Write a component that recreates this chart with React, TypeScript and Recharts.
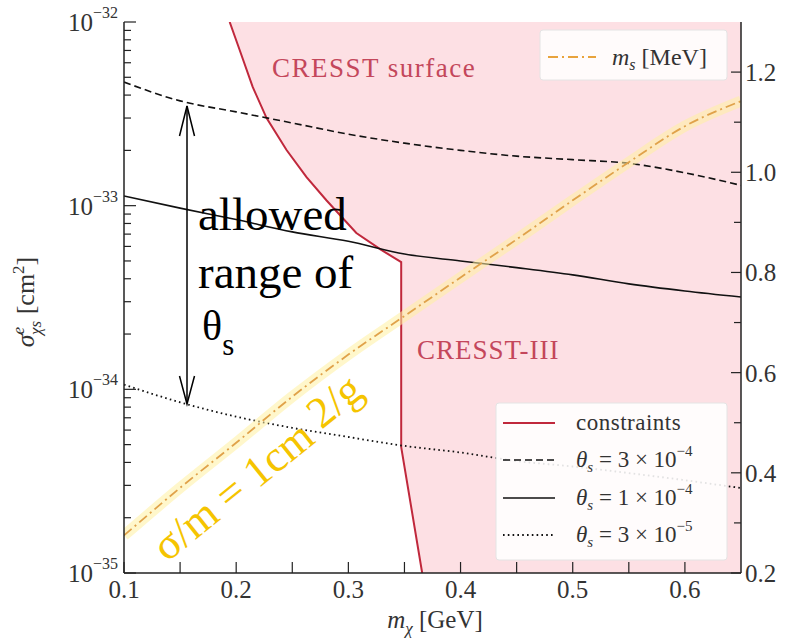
import React from 'react'
import { ComposedChart, XAxis, YAxis, Line, Area } from 'recharts'

const W = 785
const H = 638
const FONT = '"Liberation Serif", "Times New Roman", serif'
const INK = '#222'

// dark matter mass grid, GeV
const mChi = [0.1, 0.15, 0.2, 0.25, 0.3, 0.35, 0.4, 0.45, 0.5, 0.55, 0.6, 0.65]
// electron scattering cross section on sigma/m = 1 cm^2/g, cm^2
const sigTheta3e4 = [4.71e-33, 3.72e-33, 3.24e-33, 2.82e-33, 2.45e-33, 2.19e-33, 2.0e-33, 1.86e-33, 1.78e-33, 1.7e-33, 1.51e-33, 1.29e-33]
const sigTheta1e4 = [1.13e-33, 9.7e-34, 8.4e-34, 7.2e-34, 6.4e-34, 5.45e-34, 5.0e-34, 4.6e-34, 4.2e-34, 3.75e-34, 3.43e-34, 3.18e-34]
const sigTheta3e5 = [1.06e-34, 8.5e-35, 7.1e-35, 6.17e-35, 5.5e-35, 4.92e-35, 4.53e-35, 4.07e-35, 3.8e-35, 3.5e-35, 3.2e-35, 2.9e-35]
// mediator mass, MeV (right axis)
const mS = [0.275, 0.37, 0.46, 0.552, 0.636, 0.713, 0.79, 0.866, 0.944, 1.02, 1.092, 1.142]

// CRESST surface + CRESST-III exclusion boundary
const cresstM = [0.1942, 0.2031, 0.2147, 0.2271, 0.2449, 0.2627, 0.2804, 0.3071, 0.3293, 0.3471, 0.3471, 0.3658, 0.65]
const cresstSig = [1e-32, 7.04e-33, 4.43e-33, 3.0e-33, 2.01e-33, 1.43e-33, 1.07e-33, 7.1e-34, 5.74e-34, 4.93e-34, 4.85e-35, 1e-35, 1e-35]

const SIG_DOMAIN: [number, number] = [1e-35, 1e-32]
const MS_DOMAIN: [number, number] = [0.2, 1.3]
const M_DOMAIN: [number, number] = [0.1, 0.65]

const xTicks = [0.1, 0.15, 0.2, 0.25, 0.3, 0.35, 0.4, 0.45, 0.5, 0.55, 0.6]
const xLabels = ['0.1', '0.2', '0.3', '0.4', '0.5', '0.6']
const decades = [-35, -34, -33, -32]
const mantissas = [2, 3, 4, 5, 6, 7, 8, 9]
const sigTicks = [
  ...decades.map((d) => Math.pow(10, d)),
  ...decades.slice(0, 3).flatMap((d) => mantissas.map((k) => k * Math.pow(10, d))),
]
const msTicks = [0.2, 0.3, 0.4, 0.5, 0.6, 0.7, 0.8, 0.9, 1.0, 1.1, 1.2]
const msLabels = ['0.2', '0.4', '0.6', '0.8', '1.0', '1.2']

const rows = (ys: number[]) => mChi.map((m, i) => ({ m, v: ys[i] }))
const cresstRows = cresstM.map((m, i) => ({ m, v: cresstSig[i], band: [cresstSig[i], SIG_DOMAIN[1]] }))

const fmt = (v: number) => v.toFixed(1)

function BottomTick({ x, y, payload }: any) {
  const label = fmt(payload.value)
  const major = xLabels.includes(label) && Math.abs(payload.value * 10 - Math.round(payload.value * 10)) < 1e-6
  return (
    <g>
      <line x1={x} x2={x} y1={y} y2={y - 11} stroke={INK} strokeWidth={1.2} />
      {major && (
        <text x={x} y={y + 25} textAnchor="middle" fontFamily={FONT} fontSize={25} fill="#333">
          {label}
        </text>
      )}
    </g>
  )
}

function TopTick({ x, y }: any) {
  return <line x1={x} x2={x} y1={y} y2={y + 9} stroke={INK} strokeWidth={1.2} />
}

function LeftTick({ x, y, payload }: any) {
  const e = Math.log10(payload.value)
  const major = Math.abs(e - Math.round(e)) < 1e-6
  return (
    <g>
      <line x1={x} x2={x + (major ? 12 : 7)} y1={y} y2={y} stroke={INK} strokeWidth={1.2} />
      {major && (
        <text x={x - 6} y={y + 9} textAnchor="end" fontFamily={FONT} fontSize={25} fill="#333">
          10
          <tspan dy={-13} fontSize={16}>{'\u2212' + String(-Math.round(e))}</tspan>
        </text>
      )}
    </g>
  )
}

function RightTick({ x, y, payload }: any) {
  const label = fmt(payload.value)
  const major = msLabels.includes(label)
  return (
    <g>
      <line x1={x} x2={x - (major ? 10 : 7)} y1={y} y2={y} stroke={INK} strokeWidth={1.2} />
      {major && (
        <text x={x + 4} y={y + 9} textAnchor="start" fontFamily={FONT} fontSize={25} fill="#333">
          {label}
        </text>
      )}
    </g>
  )
}

function Annotations() {
  const txt = { fontFamily: FONT }
  return (
    <svg width={W} height={H} style={{ position: 'absolute', left: 0, top: 0, pointerEvents: 'none' }}>
      {/* region labels */}
      <text x={272} y={77} fontSize={27} fill="#c4475b" letterSpacing={1.5} style={txt}>CRESST surface</text>
      <text x={417} y={359} fontSize={27} fill="#c4475b" letterSpacing={1} style={txt}>CRESST-III</text>

      {/* allowed range arrow */}
      <line x1={187} x2={187} y1={106} y2={403} stroke="#000" strokeWidth={1.5} />
      <polyline points="179.5,136 187,106 194.5,136" fill="none" stroke="#000" strokeWidth={1.5} />
      <polyline points="179.5,376 187,404 194.5,376" fill="none" stroke="#000" strokeWidth={1.5} />
      <text x={198} y={230} fontSize={47} fill="#000" style={txt}>allowed</text>
      <text x={198} y={288} fontSize={47} fill="#000" style={txt}>range of</text>
      <text x={202} y={340} fontSize={42} fill="#000" style={txt}>
        θ<tspan dy={15} fontSize={31}>s</tspan>
      </text>

      {/* sigma/m label along the mediator line */}
      <text
        x={268}
        y={481}
        fontSize={44}
        fill="#f5c400"
        textAnchor="middle"
        transform="rotate(-39 268 481)"
        style={txt}
      >
        σ/m = 1cm <tspan dy={-6}>2</tspan>/g
      </text>

      {/* mediator mass legend */}
      <rect x={540} y={30} width={187} height={50} rx={3} fill="rgba(255,255,255,0.85)" stroke="#e4e4e4" />
      <line x1={548} x2={596} y1={57} y2={57} stroke="#e8a33c" strokeWidth={1.8} strokeDasharray="10 4 2 4" />
      <text x={612} y={65} fontSize={24} fill="#333" style={txt}>
        <tspan fontStyle="italic">m</tspan>
        <tspan dy={5} fontSize={16} fontStyle="italic">s</tspan>
        <tspan dy={-5}> [MeV]</tspan>
      </text>

      {/* curve legend */}
      <rect x={496} y={403} width={231} height={157} rx={3} fill="rgba(255,255,255,0.88)" stroke="#e4e4e4" />
      <line x1={503} x2={555} y1={423} y2={423} stroke="#c0283c" strokeWidth={2} />
      <text x={576} y={430} fontSize={23} fill="#333" letterSpacing={0.5} style={txt}>constraints</text>
      <line x1={503} x2={555} y1={460} y2={460} stroke="#111" strokeWidth={1.6} strokeDasharray="7 4" />
      <line x1={503} x2={555} y1={498} y2={498} stroke="#111" strokeWidth={1.6} />
      <line x1={503} x2={555} y1={535} y2={535} stroke="#111" strokeWidth={1.8} strokeDasharray="1.6 3.2" />
      {[
        { y: 467, a: '3', e: '4' },
        { y: 505, a: '1', e: '4' },
        { y: 542, a: '3', e: '5' },
      ].map((r) => (
        <text key={r.y} x={576} y={r.y} fontSize={23} fill="#333" style={txt}>
          <tspan fontStyle="italic">θ</tspan>
          <tspan dy={5} fontSize={15} fontStyle="italic">s</tspan>
          <tspan dy={-5}>{` = ${r.a} × 10`}</tspan>
          <tspan dy={-11} fontSize={15}>{'\u2212' + r.e}</tspan>
        </text>
      ))}

      {/* axis titles */}
      <text x={435} y={628} textAnchor="middle" fontSize={25} fill="#333" style={txt}>
        <tspan fontStyle="italic">m</tspan>
        <tspan dy={6} fontSize={17} fontStyle="italic">χ</tspan>
        <tspan dy={-6}> [GeV]</tspan>
      </text>
      <text x={34} y={302} textAnchor="middle" fontSize={26} fill="#333" transform="rotate(-90 34 302)" style={txt}>
        <tspan fontStyle="italic">σ</tspan>
        <tspan dy={-10} fontSize={17} fontStyle="italic">e</tspan>
        <tspan dx={-8} dy={17} fontSize={17} fontStyle="italic">χs</tspan>
        <tspan dy={-7}> [cm</tspan>
        <tspan dy={-10} fontSize={17}>2</tspan>
        <tspan dy={10}>]</tspan>
      </text>
    </svg>
  )
}

export default function App() {
  return (
    <div style={{ position: 'absolute', left: 0, top: 0, width: W, height: H, background: '#fff' }}>
      <ComposedChart width={W} height={H} margin={{ top: 22, right: 0, bottom: 0, left: 0 }}>
        <XAxis
          xAxisId="b"
          type="number"
          dataKey="m"
          domain={M_DOMAIN}
          ticks={xTicks}
          interval={0}
          height={65}
          tickSize={0}
          tickMargin={0}
          tickLine={false}
          tick={(p: any) => <BottomTick {...p} />}
          axisLine={{ stroke: INK, strokeWidth: 1.5 }}
          allowDataOverflow
        />
        <XAxis
          xAxisId="t"
          orientation="top"
          type="number"
          dataKey="m"
          domain={M_DOMAIN}
          ticks={xTicks}
          interval={0}
          height={0}
          tickSize={0}
          tickMargin={0}
          tickLine={false}
          tick={(p: any) => <TopTick {...p} />}
          axisLine={{ stroke: INK, strokeWidth: 1.5 }}
          allowDataOverflow
        />
        <YAxis
          yAxisId="sig"
          scale="log"
          type="number"
          domain={SIG_DOMAIN}
          ticks={sigTicks}
          interval={0}
          width={124}
          tickSize={0}
          tickMargin={0}
          tickLine={false}
          tick={(p: any) => <LeftTick {...p} />}
          axisLine={{ stroke: INK, strokeWidth: 1.5 }}
          allowDataOverflow
        />
        <YAxis
          yAxisId="ms"
          orientation="right"
          type="number"
          domain={MS_DOMAIN}
          ticks={msTicks}
          interval={0}
          width={44}
          tickSize={0}
          tickMargin={0}
          tickLine={false}
          tick={(p: any) => <RightTick {...p} />}
          axisLine={{ stroke: INK, strokeWidth: 1.5 }}
          allowDataOverflow
        />

        <Area
          data={cresstRows}
          dataKey="band"
          xAxisId="b"
          yAxisId="sig"
          type="linear"
          fill="#fde0e4"
          fillOpacity={1}
          stroke="none"
          isAnimationActive={false}
        />
        <Line
          data={cresstRows.slice(0, 12)}
          dataKey="v"
          xAxisId="b"
          yAxisId="sig"
          type="linear"
          stroke="#c0283c"
          strokeWidth={2}
          dot={false}
          isAnimationActive={false}
        />

        <Line
          data={rows(sigTheta3e4)}
          dataKey="v"
          xAxisId="b"
          yAxisId="sig"
          type="monotone"
          stroke="#111"
          strokeWidth={1.6}
          strokeDasharray="7 4"
          dot={false}
          isAnimationActive={false}
        />
        <Line
          data={rows(sigTheta1e4)}
          dataKey="v"
          xAxisId="b"
          yAxisId="sig"
          type="monotone"
          stroke="#111"
          strokeWidth={1.6}
          dot={false}
          isAnimationActive={false}
        />
        <Line
          data={rows(sigTheta3e5)}
          dataKey="v"
          xAxisId="b"
          yAxisId="sig"
          type="monotone"
          stroke="#111"
          strokeWidth={1.8}
          strokeDasharray="1.6 3.2"
          dot={false}
          isAnimationActive={false}
        />

        {/* mediator mass: soft highlight underneath a dash-dot line */}
        <Line
          data={rows(mS)}
          dataKey="v"
          xAxisId="b"
          yAxisId="ms"
          type="monotone"
          stroke="#fff0a0"
          strokeOpacity={0.55}
          strokeWidth={11}
          dot={false}
          isAnimationActive={false}
        />
        <Line
          data={rows(mS)}
          dataKey="v"
          xAxisId="b"
          yAxisId="ms"
          type="monotone"
          stroke="#e0a24a"
          strokeWidth={1.8}
          strokeDasharray="10 4 2 4"
          dot={false}
          isAnimationActive={false}
        />
      </ComposedChart>
      <Annotations />
    </div>
  )
}
